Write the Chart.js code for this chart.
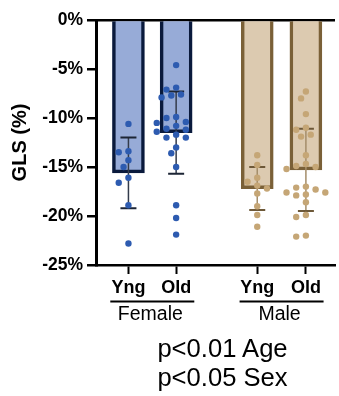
<!DOCTYPE html>
<html>
<head>
<meta charset="utf-8">
<script src="https://cdn.jsdelivr.net/npm/chart.js@4"></script>
<style>
  body { margin: 0; background: #fff; }
  #wrap { position: relative; width: 339px; height: 396px; }
  #stats {
    position: absolute; left: 100px; width: 245px; top: 334px;
    text-align: center; font: 25.6px/29px "Liberation Sans", Arial, sans-serif; color: #000;
  }
</style>
</head>
<body>
<div id="wrap">
  <canvas id="glsChart" width="339" height="396"></canvas>
  <div id="stats">p&lt;0.01 Age<br>p&lt;0.05 Sex</div>
</div>
<script>
// data
const groups = ['Female', 'Male'];
const tickLabels = ['Yng', 'Old', 'Yng', 'Old'];
const xPos = [1, 2, 3.7, 4.72];          // category centres, gap between sexes
const means = [-15.6, -11.5, -17.2, -15.3];
const sds = [3.6, 4.2, 2.2, 4.2];
const yTicks = [0, -5, -10, -15, -20, -25];

const femaleYng = [-10.6, -13.4, -13.5, -14.3, -15.0, -16.1, -16.6, -18.9, -22.8];
const femaleOld = [-4.6, -6.9, -7.1, -7.6, -7.7, -7.9, -9.9, -10.0, -10.4, -10.5, -10.8, -11.1,
                   -11.2, -11.4, -11.7, -12.0, -12.0, -13.0, -13.6, -15.0, -18.9, -20.2, -21.9];
const maleYng = [-13.8, -14.8, -16.1, -16.5, -16.9, -17.2, -17.7, -19.0, -19.9, -21.1];
const maleOld = [-7.3, -8.0, -9.6, -11.0, -11.2, -11.7, -11.9, -13.8, -14.7, -14.9, -15.0, -15.2,
                 -17.0, -17.1, -17.3, -17.6, -17.6, -17.8, -17.9, -18.6, -19.9, -20.1, -22.0, -22.1];
const points = [femaleYng, femaleOld, maleYng, maleOld];

const fillCols = ['#97abd7', '#97abd7', '#dccab0', '#dccab0'];
const edgeCols = ['#0a1a3c', '#0a1a3c', '#7a6037', '#7a6037'];
const dotCols = ['#2d5bb0', '#2d5bb0', '#c5a676', '#c5a676'];
const errCols = ['#333b4b', '#333b4b', '#a48d6a', '#a48d6a'];
const capCols = ['#1c2535', '#1c2535', '#6d5838', '#6d5838'];

Chart.defaults.font.family = '"Liberation Sans", Arial, sans-serif';
Chart.defaults.color = '#000';

// mean +/- SD whiskers, drawn right after the bars
const errorBars = {
  id: 'errorBars',
  afterDatasetDraw(chart, args) {
    if (args.index !== 0) return;
    const { ctx, scales: { x, y } } = chart;
    ctx.save();
    means.forEach((m, i) => {
      const cx = x.getPixelForValue(xPos[i]);
      const top = y.getPixelForValue(m + sds[i]);
      const bot = y.getPixelForValue(m - sds[i]);
      ctx.strokeStyle = errCols[i];
      ctx.lineWidth = 1.5;
      ctx.beginPath();
      ctx.moveTo(cx, top);
      ctx.lineTo(cx, bot);
      ctx.stroke();
      ctx.strokeStyle = capCols[i];
      ctx.lineWidth = 2;
      ctx.beginPath();
      ctx.moveTo(cx - 8, top); ctx.lineTo(cx + 8, top);
      ctx.moveTo(cx - 8, bot); ctx.lineTo(cx + 8, bot);
      ctx.stroke();
    });
    ctx.restore();
  }
};

// underline + Female / Male under the tick labels
const groupLabels = {
  id: 'groupLabels',
  afterDraw(chart) {
    const { ctx, scales: { x } } = chart;
    ctx.save();
    ctx.font = '19.5px "Liberation Sans", Arial, sans-serif';
    ctx.textAlign = 'center';
    ctx.fillStyle = '#000';
    ctx.strokeStyle = '#000';
    ctx.lineWidth = 2;
    groups.forEach((g, gi) => {
      const a = x.getPixelForValue(xPos[gi * 2]);
      const b = x.getPixelForValue(xPos[gi * 2 + 1]);
      const mid = (a + b) / 2;
      ctx.beginPath();
      ctx.moveTo(mid - 42, x.top + 36.5);
      ctx.lineTo(mid + 42, x.top + 36.5);
      ctx.stroke();
      ctx.fillText(g, mid - 2, x.top + 55);
    });
    ctx.restore();
  }
};

const chart = new Chart(document.getElementById('glsChart'), {
  data: {
    datasets: [
      {
        type: 'bar',
        order: 2,
        data: means.map((m, i) => ({ x: xPos[i], y: m })),
        backgroundColor: fillCols,
        borderColor: edgeCols,
        borderWidth: 3.5,
        barThickness: 32
      },
      ...points.map((vals, i) => ({
        type: 'scatter',
        order: 1,
        data: vals.map(v => ({ x: xPos[i], y: v })),
        backgroundColor: dotCols[i],
        borderWidth: 0,
        pointRadius: 3.2
      }))
    ]
  },
  options: {
    responsive: false,
    animation: false,
    layout: { padding: { top: 20, left: 0, right: 0, bottom: 0 } },
    plugins: { legend: { display: false }, tooltip: { enabled: false } },
    scales: {
      x: {
        type: 'linear',
        offset: false,
        min: 0.32,
        max: 5.33,
        afterBuildTicks: s => { s.ticks = xPos.map(v => ({ value: v })); },
        afterFit: s => { s.height = 131; s.paddingLeft = 0; s.paddingRight = 0; },
        ticks: {
          callback: (v, i) => tickLabels[i],
          font: { size: 18, weight: 'bold' },
          padding: 3,
          maxRotation: 0
        },
        grid: { drawOnChartArea: false, offset: false, tickLength: 9, tickColor: '#000', tickWidth: 2 },
        border: { color: '#000', width: 2.5 }
      },
      y: {
        z: 1,
        min: -25,
        max: 0,
        afterBuildTicks: s => { s.ticks = yTicks.map(v => ({ value: v })); },
        afterFit: s => { s.width = 96; s.paddingTop = 0; s.paddingBottom = 0; },
        ticks: {
          callback: v => v + '%',
          font: { size: 17.5, weight: 'bold' },
          padding: 4
        },
        grid: {
          color: c => (c.tick && c.tick.value === 0 ? '#000' : 'rgba(0,0,0,0)'),
          lineWidth: 2.5,
          tickLength: 9,
          tickColor: '#000',
          tickWidth: 2.5
        },
        border: { color: '#000', width: 3 },
        title: {
          display: true,
          text: 'GLS (%)',
          font: { size: 20, weight: 'bold' },
          padding: { top: 8, bottom: 0 }
        }
      }
    }
  },
  plugins: [errorBars, groupLabels]
});

// spread the dots sideways so they do not overlap (simple beeswarm in pixels)
function swarm(vals, yScale, step, minDist) {
  const order = vals.map((v, i) => i).sort((a, b) => vals[b] - vals[a]);
  const placed = [];
  const out = new Array(vals.length).fill(0);
  order.forEach(i => {
    const py = yScale.getPixelForValue(vals[i]);
    for (let k = 0; k < 30; k++) {
      const opts = k === 0 ? [0] : [-k * step, k * step];
      const dx = opts.find(d => placed.every(p => Math.hypot(p.dx - d, p.py - py) >= minDist));
      if (dx !== undefined) { placed.push({ dx, py }); out[i] = dx; return; }
    }
  });
  return out;
}

const xs = chart.scales.x, ys = chart.scales.y;
points.forEach((vals, i) => {
  const cx = xs.getPixelForValue(xPos[i]);
  const offs = swarm(vals, ys, 4.85, 7);
  chart.data.datasets[i + 1].data = vals.map((v, j) => ({ x: xs.getValueForPixel(cx + offs[j]), y: v }));
});
chart.update('none');
</script>
</body>
</html>
